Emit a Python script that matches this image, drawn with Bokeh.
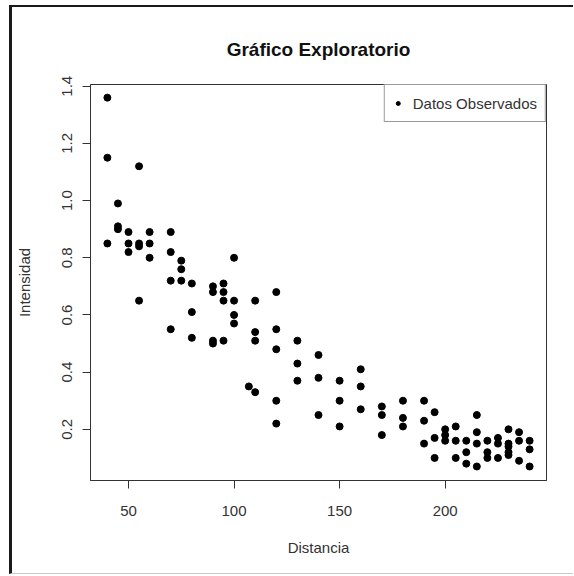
from bokeh.plotting import figure
from bokeh.models import (FixedTicker, Range1d, Legend, LegendItem,
                          ColumnDataSource, PrintfTickFormatter)
from bokeh.embed import file_html
from bokeh.resources import INLINE

distancia = [40, 40, 40,
             45, 45, 45,
             50, 50, 50,
             55, 55, 55, 55,
             60, 60, 60,
             70, 70, 70, 70,
             75, 75, 75,
             80, 80, 80,
             90, 90, 90, 90,
             95, 95, 95, 95,
             100, 100, 100, 100,
             107,
             110, 110, 110, 110,
             120, 120, 120, 120, 120,
             130, 130, 130,
             140, 140, 140,
             150, 150, 150,
             160, 160, 160,
             170, 170, 170,
             180, 180, 180,
             190, 190, 190,
             195, 195, 195,
             200, 200, 200,
             205, 205, 205,
             210, 210, 210,
             215, 215, 215, 215,
             220, 220, 220,
             225, 225, 225,
             230, 230, 230, 230, 230,
             235, 235, 235,
             240, 240, 240]

intensidad = [1.36, 1.15, 0.85,
              0.99, 0.91, 0.90,
              0.89, 0.85, 0.82,
              1.12, 0.85, 0.84, 0.65,
              0.89, 0.85, 0.80,
              0.89, 0.82, 0.72, 0.55,
              0.79, 0.76, 0.72,
              0.71, 0.61, 0.52,
              0.70, 0.68, 0.51, 0.50,
              0.71, 0.68, 0.65, 0.51,
              0.80, 0.65, 0.60, 0.57,
              0.35,
              0.65, 0.54, 0.51, 0.33,
              0.68, 0.55, 0.48, 0.30, 0.22,
              0.51, 0.43, 0.37,
              0.46, 0.38, 0.25,
              0.37, 0.30, 0.21,
              0.41, 0.35, 0.27,
              0.28, 0.25, 0.18,
              0.30, 0.24, 0.21,
              0.30, 0.23, 0.15,
              0.26, 0.17, 0.10,
              0.20, 0.18, 0.16,
              0.21, 0.16, 0.10,
              0.16, 0.12, 0.08,
              0.25, 0.19, 0.15, 0.07,
              0.16, 0.12, 0.10,
              0.17, 0.15, 0.10,
              0.20, 0.15, 0.14, 0.12, 0.11,
              0.19, 0.16, 0.09,
              0.16, 0.13, 0.07]

x_ticks = [50, 100, 150, 200]
y_ticks = [0.2, 0.4, 0.6, 0.8, 1.0, 1.2, 1.4]

FONT = "Liberation Sans"
TXT = "#333333"

src = ColumnDataSource(data=dict(distancia=distancia, intensidad=intensidad))

p = figure(frame_width=456, frame_height=396,
           x_range=Range1d(32, 248), y_range=Range1d(0.021, 1.406),
           output_backend="svg", toolbar_location=None,
           title="Gráfico Exploratorio",
           min_border_left=77, min_border_right=27,
           min_border_top=77, min_border_bottom=93)

p.styles = {"margin-left": "9px", "margin-top": "5px",
            "border-left": "3px solid #1a1a1a",
            "border-top": "2px solid #1a1a1a",
            "border-bottom": "1px solid #cccccc"}

p.xgrid.visible = False
p.ygrid.visible = False
p.outline_line_color = "#333333"
p.outline_line_width = 1

r = p.scatter(x="distancia", y="intensidad", source=src, size=7,
              fill_color="black", line_color="black")

for ax in (p.xaxis[0], p.yaxis[0]):
    ax.major_tick_out = 8
    ax.major_tick_in = 0
    ax.minor_tick_line_color = None
    ax.axis_line_color = "#333333"
    ax.major_tick_line_color = "#333333"
    ax.major_label_text_font = FONT
    ax.major_label_text_font_size = "15px"
    ax.major_label_text_color = TXT
    ax.axis_label_text_font = FONT
    ax.axis_label_text_font_size = "15px"
    ax.axis_label_text_font_style = "normal"
    ax.axis_label_text_color = TXT

p.xaxis.ticker = FixedTicker(ticks=x_ticks)
p.yaxis.ticker = FixedTicker(ticks=y_ticks)
p.yaxis.formatter = PrintfTickFormatter(format="%.1f")
p.xaxis.axis_label = "Distancia"
p.yaxis.axis_label = "Intensidad"
p.xaxis.major_label_standoff = 17
p.xaxis.axis_label_standoff = 20
p.yaxis.major_label_standoff = 10
p.yaxis.axis_label_standoff = 27
p.yaxis.major_label_orientation = "vertical"

p.title.text_font = FONT
p.title.text_font_size = "19px"
p.title.text_font_style = "bold"
p.title.text_color = "#111111"
p.title.align = "center"
p.title.standoff = 49

legend = Legend(items=[LegendItem(label="Datos Observados", renderers=[r])],
                location="top_right")
legend.margin = 0
legend.padding = 8
legend.spacing = 0
legend.label_height = 20
legend.glyph_height = 20
legend.glyph_width = 10
legend.label_standoff = 10
legend.label_text_font = FONT
legend.label_text_font_size = "15px"
legend.label_text_color = TXT
legend.border_line_color = "#333333"
legend.border_line_width = 1
legend.background_fill_alpha = 1.0
p.add_layout(legend)

open("out.html", "w").write(file_html(p, INLINE))
